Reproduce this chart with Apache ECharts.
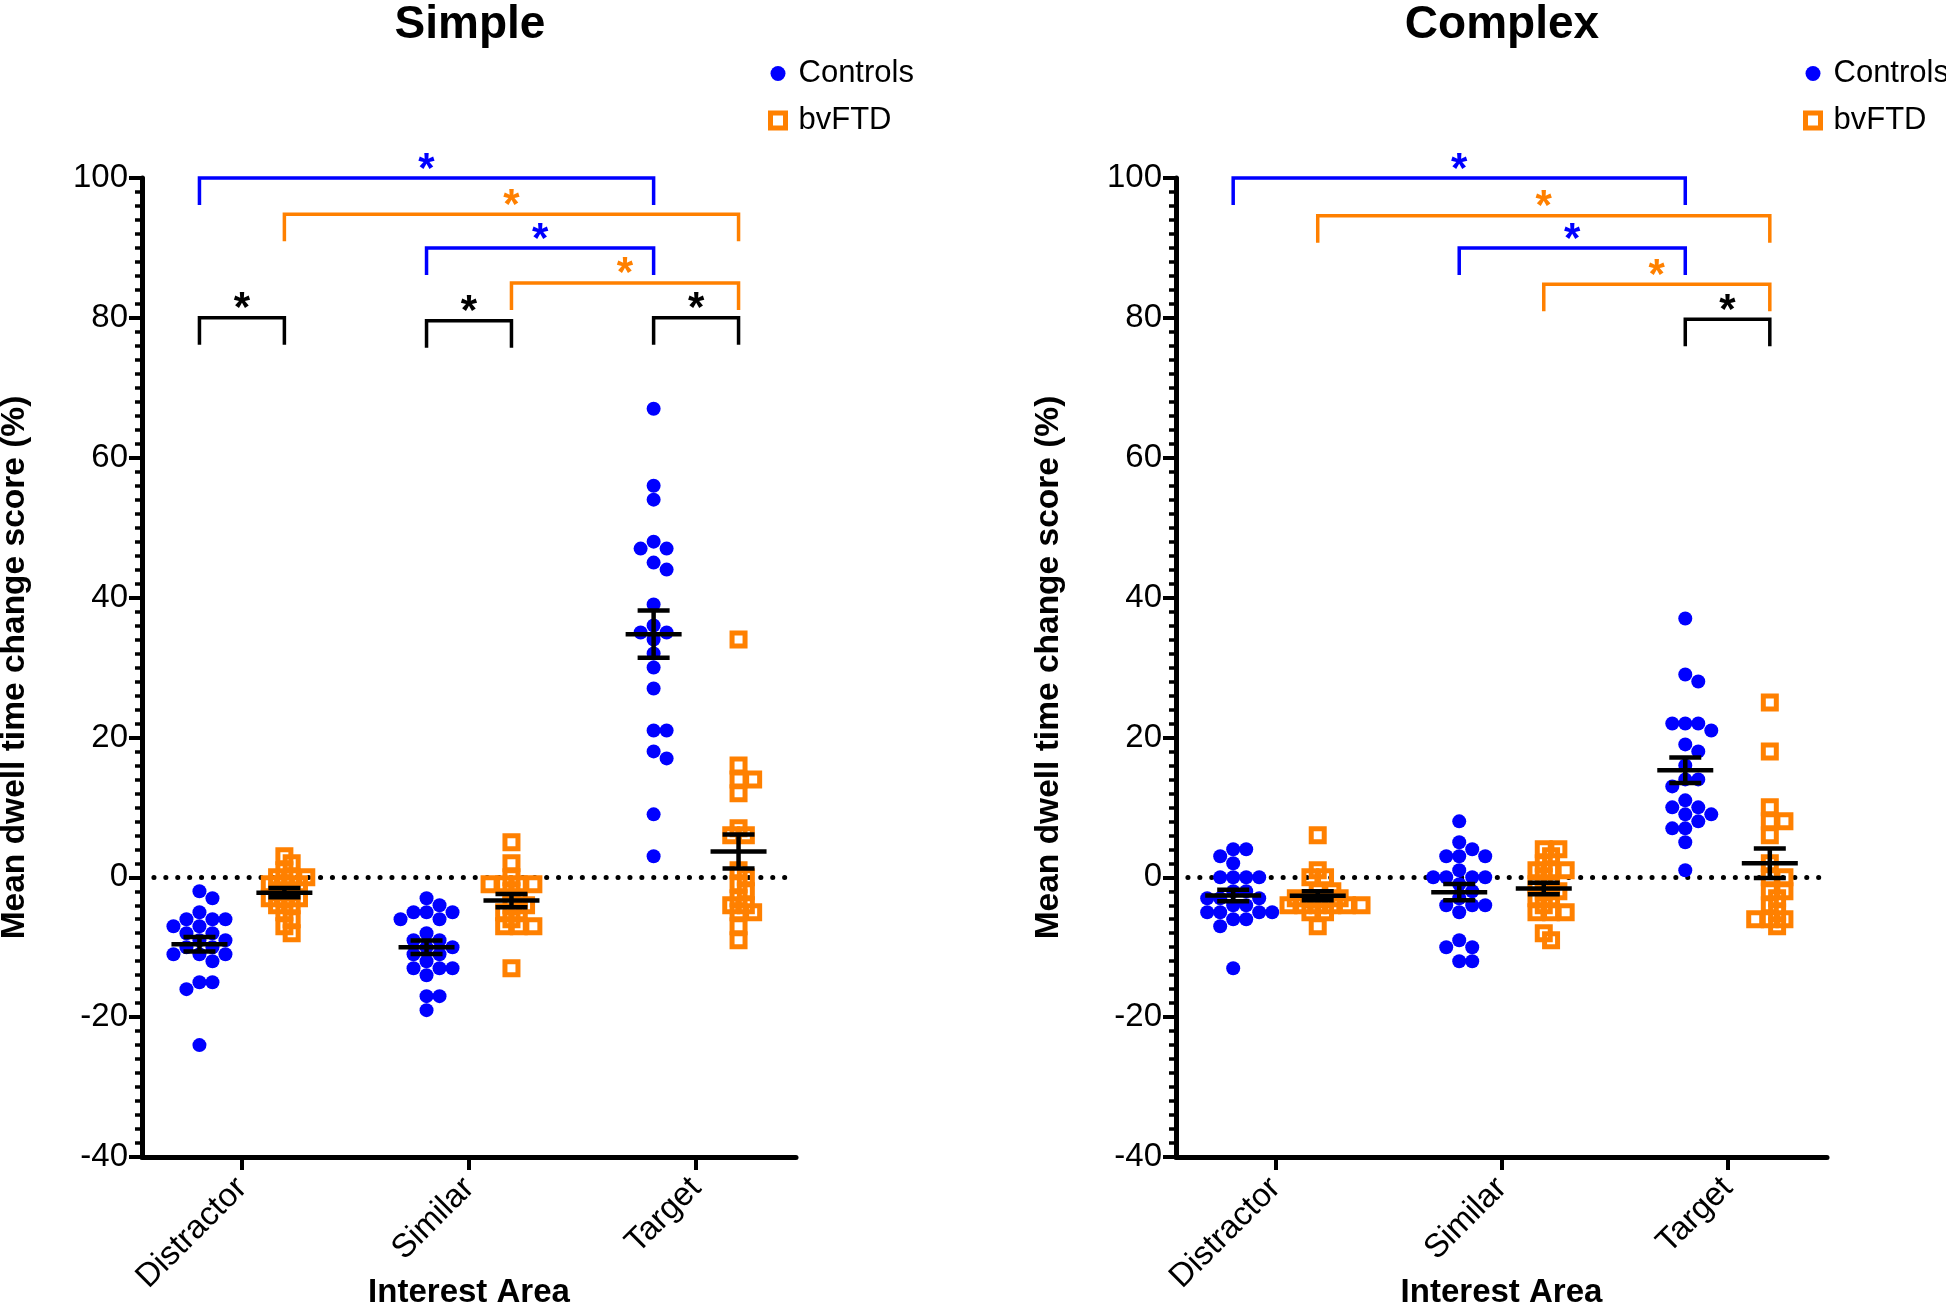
<!DOCTYPE html>
<html>
<head>
<meta charset="utf-8">
<script src="https://cdn.jsdelivr.net/npm/echarts@6/dist/echarts.min.js"></script>
<style>
html, body { margin: 0; padding: 0; background: #fff; }
#chart { width: 1946px; height: 1306px; }
</style>
</head>
<body>
<div id="chart"></div>
<script>
var areas = ['Distractor', 'Similar', 'Target'];
var panels = ['Simple', 'Complex'];
var yTicks = [-40, -20, 0, 20, 40, 60, 80, 100];

// Simple task, one array per group and interest area (dwell time change, %)
var simpleControlsDistractor = [-2, -3, -5, -6, -6, -6, -7, -7, -8, -8, -9, -9, -10, -10, -11, -11, -11, -12, -15, -15, -16, -24];
var simpleBvftdDistractor = [3, 2, 1, 0, 0, 0, -1, -1, -1, -2, -2, -3, -3, -3, -4, -4, -5, -6, -7, -8];
var simpleControlsSimilar = [-3, -4, -5, -5, -5, -6, -6, -8, -9, -9, -10, -10, -11, -11, -12, -13, -13, -13, -14, -17, -17, -19];
var simpleBvftdSimilar = [5, 2, 0, -1, -1, -1, -1, -2, -3, -4, -4, -5, -5, -6, -7, -7, -7, -13];
var simpleControlsTarget = [67, 56, 54, 48, 47, 47, 45, 44, 39, 36, 35, 35, 34, 32, 30, 27, 21, 21, 18, 17, 9, 3];
var simpleBvftdTarget = [34, 16, 14, 14, 12, 7, 6, 6, 1, 0, -1, -2, -3, -4, -4, -5, -5, -7, -9];

// Complex task
var complexControlsDistractor = [4, 4, 3, 2, 0, 0, 0, 0, -2, -2, -3, -3, -3, -4, -4, -5, -5, -5, -5, -6, -6, -7, -13];
var complexBvftdDistractor = [6, 1, 0, 0, -2, -2, -3, -3, -3, -3, -4, -4, -4, -4, -4, -4, -5, -5, -7];
var complexControlsSimilar = [8, 5, 4, 3, 3, 3, 1, 0, 0, 0, 0, -1, -2, -3, -4, -4, -4, -5, -9, -10, -10, -12, -12];
var complexBvftdSimilar = [4, 4, 3, 2, 1, 1, 1, 0, -1, -1, -2, -2, -3, -3, -4, -5, -5, -5, -8, -9];
var complexControlsTarget = [37, 29, 28, 22, 22, 22, 21, 19, 18, 16, 14, 14, 13, 11, 10, 10, 9, 9, 8, 7, 7, 5, 1];
var complexBvftdTarget = [25, 18, 10, 8, 8, 6, 2, 0, 0, -2, -2, -3, -4, -5, -6, -6, -6, -7];

// significance brackets: [area from, group from, area to, group to, level]
// group 0 = Controls, 1 = bvFTD
var simpleBrackets = [
    [0, 0, 2, 0, 100],
    [0, 1, 2, 1, 94.8],
    [1, 0, 2, 0, 90],
    [1, 1, 2, 1, 85],
    [0, 0, 0, 1, 80],
    [1, 0, 1, 1, 79.6],
    [2, 0, 2, 1, 80]
];
var complexBrackets = [
    [0, 0, 2, 0, 100],
    [0, 1, 2, 1, 94.6],
    [1, 0, 2, 0, 90],
    [1, 1, 2, 1, 84.8],
    [2, 0, 2, 1, 79.8]
];

var FONT = '"Liberation Sans", Arial, Helvetica, sans-serif';
var BLUE = '#0000ff';
var ORANGE = '#ff8000';
var X_MIN = -0.44, X_MAX = 2.44;
var GROUP_OFF = 0.187;
var grids = [
    { left: 142, top: 178, width: 654, height: 979, containLabel: false, outerBoundsMode: 'none' },
    { left: 1176, top: 178, width: 651, height: 979, containLabel: false, outerBoundsMode: 'none' }
];

function mean(a) {
    var s = 0;
    a.forEach(function (v) { s += v; });
    return s / a.length;
}
function sem(a) {
    var m = mean(a), s = 0;
    a.forEach(function (v) { s += (v - m) * (v - m); });
    return Math.sqrt(s / (a.length - 1)) / Math.sqrt(a.length);
}

// simple beeswarm: spread equal / close values sideways (in pixels)
function swarm(values, center, pxX, pxY, step, minD) {
    var order = values.map(function (v, i) { return i; });
    order.sort(function (a, b) { return values[b] - values[a]; });
    var placed = [];
    var out = [];
    order.forEach(function (i) {
        var y = values[i] * pxY;
        var best = 0;
        for (var k = 0; k < 60; k++) {
            var dx = (k % 2 ? 1 : -1) * Math.ceil(k / 2) * step;
            var ok = placed.every(function (p) {
                return Math.sqrt((p[0] - dx) * (p[0] - dx) + (p[1] - y) * (p[1] - y)) >= minD;
            });
            if (ok) { best = dx; break; }
        }
        placed.push([best, y]);
        out.push([center + best / pxX, values[i]]);
    });
    return out;
}

function buildPanel(p, controls, bvftd, brackets) {
    var g = grids[p];
    var pxX = g.width / (X_MAX - X_MIN);
    var pxY = g.height / 140;
    var cData = [], bData = [], errData = [];
    for (var i = 0; i < 3; i++) {
        cData = cData.concat(swarm(controls[i], i - GROUP_OFF, pxX, pxY, 6.5, 12.5));
        bData = bData.concat(swarm(bvftd[i], i + GROUP_OFF, pxX, pxY, 7.3, 10));
        errData.push([i - GROUP_OFF, mean(controls[i]), sem(controls[i])]);
        errData.push([i + GROUP_OFF, mean(bvftd[i]), sem(bvftd[i])]);
    }
    var brData = brackets.map(function (b) {
        var kind = b[1] !== b[3] ? 2 : b[1];
        return [b[0] + (b[1] ? GROUP_OFF : -GROUP_OFF), b[2] + (b[3] ? GROUP_OFF : -GROUP_OFF), b[4], kind];
    });
    return [
        {
            name: 'Controls', type: 'scatter', xAxisIndex: p, yAxisIndex: p,
            symbol: 'circle', symbolSize: 14, z: 3, silent: true,
            itemStyle: { color: BLUE, opacity: 1 },
            data: cData,
            markLine: {
                silent: true, symbol: 'none', z: 1, animation: false,
                label: { show: false },
                lineStyle: { color: '#000', width: 5, type: [0.1, 11.8], cap: 'round' },
                data: [{ yAxis: 0 }]
            }
        },
        {
            name: 'bvFTD', type: 'scatter', xAxisIndex: p, yAxisIndex: p,
            symbol: 'rect', symbolSize: 13, z: 3, silent: true,
            itemStyle: { color: 'rgba(255,255,255,0)', borderColor: ORANGE, borderWidth: 5, opacity: 1 },
            data: bData
        },
        {
            type: 'custom', xAxisIndex: p, yAxisIndex: p, z: 4, silent: true,
            data: errData,
            renderItem: function (params, api) {
                var c = api.coord([api.value(0), api.value(1)]);
                var hi = api.coord([api.value(0), api.value(1) + api.value(2)]);
                var lo = api.coord([api.value(0), api.value(1) - api.value(2)]);
                var st = { stroke: '#000', lineWidth: 4.5 };
                return {
                    type: 'group',
                    children: [
                        { type: 'line', shape: { x1: c[0] - 28, y1: c[1], x2: c[0] + 28, y2: c[1] }, style: st },
                        { type: 'line', shape: { x1: c[0], y1: hi[1], x2: c[0], y2: lo[1] }, style: st },
                        { type: 'line', shape: { x1: c[0] - 16, y1: hi[1], x2: c[0] + 16, y2: hi[1] }, style: st },
                        { type: 'line', shape: { x1: c[0] - 16, y1: lo[1], x2: c[0] + 16, y2: lo[1] }, style: st }
                    ]
                };
            }
        },
        {
            type: 'custom', xAxisIndex: p, yAxisIndex: p, z: 4, silent: true,
            data: brData,
            renderItem: function (params, api) {
                var a = api.coord([api.value(0), api.value(2)]);
                var b = api.coord([api.value(1), api.value(2)]);
                var col = [BLUE, ORANGE, '#000'][api.value(3)];
                var leg = 27;
                return {
                    type: 'group',
                    children: [
                        {
                            type: 'polyline',
                            shape: { points: [[a[0], a[1] + leg], [a[0], a[1]], [b[0], b[1]], [b[0], b[1] + leg]] },
                            style: { stroke: col, lineWidth: 3.5, fill: null }
                        },
                        {
                            type: 'text',
                            x: (a[0] + b[0]) / 2, y: a[1] - 8,
                            style: {
                                text: '*', fill: col, font: 'bold 42px ' + FONT,
                                align: 'center', verticalAlign: 'middle'
                            }
                        }
                    ]
                };
            }
        }
    ];
}

function makeX(i) {
    return {
        type: 'value', gridIndex: i, min: X_MIN, max: X_MAX,
        splitLine: { show: false },
        axisLine: { onZero: false, lineStyle: { color: '#000', width: 5 } },
        axisTick: { customValues: [0, 1, 2], length: 13, lineStyle: { color: '#000', width: 4 } },
        axisLabel: {
            customValues: [0, 1, 2], rotate: 45, margin: 26,
            fontSize: 33, color: '#000', fontFamily: FONT,
            formatter: function (v) { return areas[Math.round(v)]; }
        },
        name: 'Interest Area', nameLocation: 'middle', nameGap: 119, nameMoveOverlap: false,
        nameTextStyle: { fontSize: 33, fontWeight: 'bold', color: '#000', fontFamily: FONT }
    };
}

function makeY(i) {
    return {
        type: 'value', gridIndex: i, min: yTicks[0], max: yTicks[yTicks.length - 1], interval: 20,
        splitLine: { show: false },
        axisLine: { show: true, onZero: false, lineStyle: { color: '#000', width: 5 } },
        axisTick: { show: true, length: 13, lineStyle: { color: '#000', width: 4 } },
        minorTick: { show: true, splitNumber: 10, length: 7, lineStyle: { color: '#000', width: 3.5 } },
        axisLabel: { fontSize: 33, color: '#000', margin: 14, fontFamily: FONT },
        name: 'Mean dwell time change score (%)', nameLocation: 'middle', nameGap: 110, nameMoveOverlap: false,
        nameTextStyle: { fontSize: 33.5, fontWeight: 'bold', color: '#000', fontFamily: FONT }
    };
}

function makeLegend(left) {
    return {
        orient: 'vertical', left: left, top: 53, itemGap: 16,
        itemWidth: 15, itemHeight: 15, selectedMode: false,
        textStyle: { fontSize: 31, color: '#000', fontFamily: FONT, lineHeight: 30, padding: [0, 0, 0, 8] },
        data: [
            { name: 'Controls', icon: 'circle', itemStyle: { color: BLUE, borderWidth: 0 } },
            { name: 'bvFTD', icon: 'rect', itemStyle: { color: '#fff', borderColor: ORANGE, borderWidth: 5 } }
        ]
    };
}

var chart = echarts.init(document.getElementById('chart'));
var series = buildPanel(0,
    [simpleControlsDistractor, simpleControlsSimilar, simpleControlsTarget],
    [simpleBvftdDistractor, simpleBvftdSimilar, simpleBvftdTarget],
    simpleBrackets
).concat(buildPanel(1,
    [complexControlsDistractor, complexControlsSimilar, complexControlsTarget],
    [complexBvftdDistractor, complexBvftdSimilar, complexBvftdTarget],
    complexBrackets
));

chart.setOption({
    animation: false,
    backgroundColor: '#fff',
    title: [
        { text: panels[0], left: 470, top: 2, textAlign: 'center', padding: 0,
          textStyle: { fontSize: 46, fontWeight: 'bold', color: '#000', fontFamily: FONT } },
        { text: panels[1], left: 1502, top: 2, textAlign: 'center', padding: 0,
          textStyle: { fontSize: 46, fontWeight: 'bold', color: '#000', fontFamily: FONT } }
    ],
    legend: [makeLegend(763), makeLegend(1798)],
    grid: grids,
    xAxis: [makeX(0), makeX(1)],
    yAxis: [makeY(0), makeY(1)],
    series: series
});
window.addEventListener('resize', function () { chart.resize(); });
</script>
</body>
</html>
